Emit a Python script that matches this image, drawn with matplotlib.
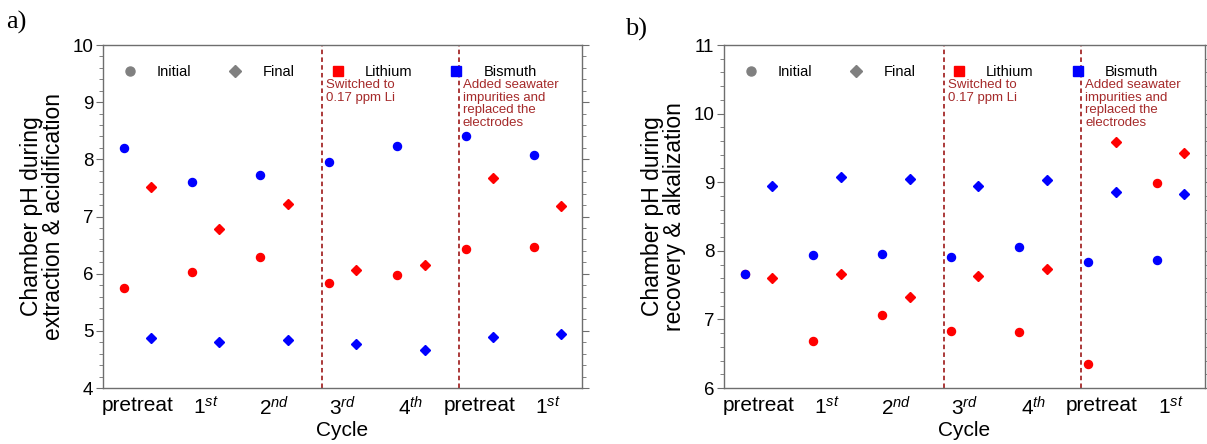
import matplotlib.pyplot as plt
import numpy as np
from matplotlib.lines import Line2D
from matplotlib.ticker import MultipleLocator

plt.rcParams['font.family'] = ['Liberation Sans', 'DejaVu Sans']
plt.rcParams['mathtext.fontset'] = 'custom'
plt.rcParams['mathtext.rm'] = 'Liberation Sans'
plt.rcParams['mathtext.it'] = 'Liberation Sans:italic'

cycles = ['pretreat', '1$^{st}$', '2$^{nd}$', '3$^{rd}$', '4$^{th}$', 'pretreat', '1$^{st}$']

# a) extraction & acidification chamber
a_bi_initial = [8.20, 7.60, 7.72, 7.95, 8.24, 8.40, 8.08]
a_bi_final = [4.87, 4.81, 4.84, 4.77, 4.66, 4.90, 4.94]
a_li_initial = [5.75, 6.03, 6.29, 5.83, 5.97, 6.43, 6.47]
a_li_final = [7.52, 6.78, 7.21, 6.06, 6.15, 7.67, 7.18]

# b) recovery & alkalization chamber
b_bi_initial = [7.66, 7.94, 7.96, 7.91, 8.05, 7.83, 7.87]
b_bi_final = [8.94, 9.08, 9.04, 8.94, 9.03, 8.86, 8.83]
b_li_initial = [7.66, 6.69, 7.06, 6.83, 6.81, 6.35, 8.99]
b_li_final = [7.61, 7.66, 7.32, 7.63, 7.73, 9.59, 9.42]

# where the experimental conditions changed (between cycles)
switch_at = [2.7, 4.7]
notes = ['Switched to\n0.17 ppm Li',
         'Added seawater\nimpurities and\nreplaced the\nelectrodes']

LI = '#ff0000'
BI = '#0000ff'
NOTE = '#a52a2a'
SPINE = '#6e6e6e'


def draw_panel(ax, li_init, li_fin, bi_init, bi_fin, ylim, ylabel):
    x = np.arange(len(cycles))
    ax.plot(x - 0.2, li_init, 'o', color=LI, ms=5.8, ls='none')
    ax.plot(x + 0.2, li_fin, 'D', color=LI, ms=4.8, ls='none')
    ax.plot(x - 0.2, bi_init, 'o', color=BI, ms=5.8, ls='none')
    ax.plot(x + 0.2, bi_fin, 'D', color=BI, ms=4.8, ls='none')

    for xs, note in zip(switch_at, notes):
        ax.axvline(xs, color=NOTE, ls='--', lw=1.3, dashes=(2.5, 1.8))
        ax.text(xs + 0.06, 0.902, note, transform=ax.get_xaxis_transform(),
                color=NOTE, fontsize=9.5, va='top', ha='left', linespacing=1.1)

    ax.set_xlim(-0.5, 6.5)
    ax.set_ylim(*ylim)
    ax.set_xticks(x)
    ax.set_xticklabels(cycles, fontsize=15)
    ax.tick_params(axis='x', length=0, pad=6)
    ax.yaxis.set_major_locator(MultipleLocator(1))
    ax.yaxis.set_minor_locator(MultipleLocator(0.2))
    ax.tick_params(axis='y', which='both', direction='out', left=True, right=True,
                   color=SPINE, labelsize=13.5, pad=2)
    ax.tick_params(axis='y', which='major', length=5)
    ax.tick_params(axis='y', which='minor', length=3)
    for sp in ax.spines.values():
        sp.set_color(SPINE)
        sp.set_linewidth(1.0)

    ax.set_xlabel('Cycle', fontsize=15, labelpad=1)
    ax.set_ylabel(ylabel, fontsize=16.5, labelpad=5, linespacing=0.95)

    handles = [
        Line2D([], [], marker='o', color='#808080', ls='none', ms=6.5),
        Line2D([], [], marker='D', color='#808080', ls='none', ms=6.0),
        Line2D([], [], marker='s', color=LI, ls='none', ms=6.7),
        Line2D([], [], marker='s', color=BI, ls='none', ms=6.7),
    ]
    ax.legend(handles, ['Initial', 'Final', 'Lithium', 'Bismuth'], ncol=4,
              loc='center left', bbox_to_anchor=(0.026, 0.92), frameon=False,
              fontsize=10.5, borderpad=0, borderaxespad=0, handlelength=2.0,
              handletextpad=0.85, columnspacing=2.0)


fig = plt.figure(figsize=(12.07, 4.44), dpi=100)
ax_a = fig.add_axes([103 / 1207, 56 / 444, 479 / 1207, 343 / 444])
ax_b = fig.add_axes([724 / 1207, 56 / 444, 481 / 1207, 343 / 444])

draw_panel(ax_a, a_li_initial, a_li_final, a_bi_initial, a_bi_final,
           (4, 10), 'Chamber pH during\nextraction & acidification')
draw_panel(ax_b, b_li_initial, b_li_final, b_bi_initial, b_bi_final,
           (6, 11), 'Chamber pH during\nrecovery & alkalization')

fig.text(6 / 1207, 1 - 22 / 444, 'a)', fontsize=19, family='Liberation Serif',
         va='center', ha='left')
fig.text(625 / 1207, 1 - 29 / 444, 'b)', fontsize=19, family='Liberation Serif',
         va='center', ha='left')

fig.savefig('out.png', dpi=100)
